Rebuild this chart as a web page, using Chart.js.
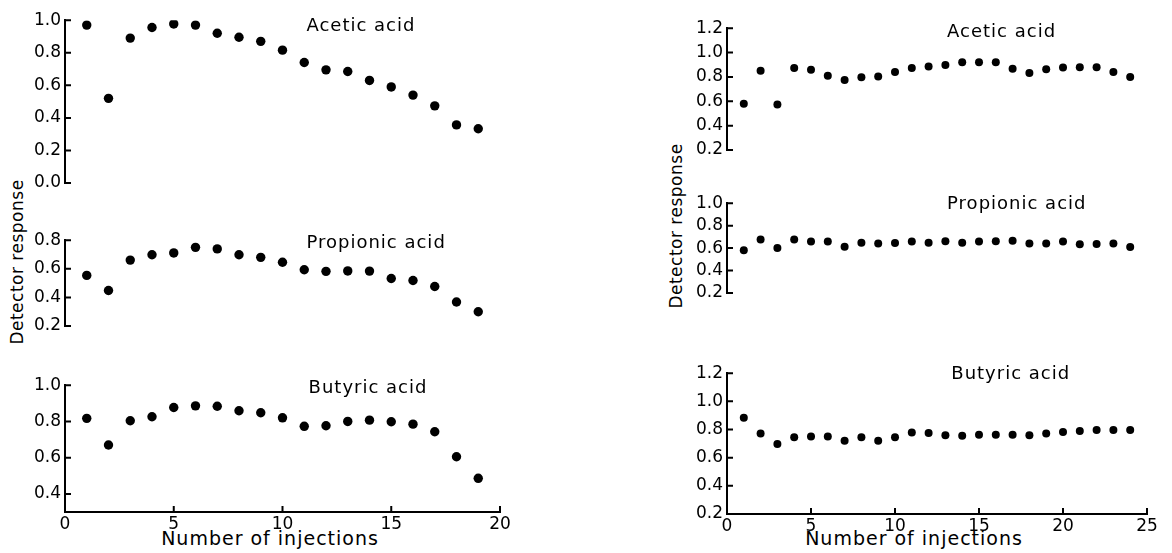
<!doctype html>
<html>
<head>
    <title>Detector response vs injections</title>
    <script src="https://cdn.jsdelivr.net/npm/chart.js"></script>
    <style>
        body {
            margin: 0;
            background: #fff;
            font-family: "DejaVu Sans", sans-serif;
            width: 1172px;
            height: 553px;
            position: relative;
            overflow: hidden;
        }
        .panel {
            position: absolute;
        }
        .axis-title {
            position: absolute;
            font-size: 19px;
            letter-spacing: 1px;
            color: #000;
            text-align: center;
            white-space: nowrap;
            height: 24px;
            line-height: 24px;
        }
        .axis-title.y {
            font-size: 17px;
            letter-spacing: 0.5px;
            transform: rotate(-90deg);
        }
    </style>
</head>
<body>
    <div class="axis-title y" style="left:-83px; top:250px; width:200px;">Detector response</div>
    <div class="axis-title y" style="left:576px; top:214px; width:200px;">Detector response</div>
    <div class="axis-title" style="left:150px; top:526px; width:240px;">Number of injections</div>
    <div class="axis-title" style="left:794px; top:526px; width:240px;">Number of injections</div>

    <script>
        // left column: injections 1-19
        const injLeft = [1, 2, 3, 4, 5, 6, 7, 8, 9, 10, 11, 12, 13, 14, 15, 16, 17, 18, 19];
        const aceticLeft = [0.97, 0.52, 0.89, 0.955, 0.977, 0.97, 0.92, 0.895, 0.87, 0.816, 0.74, 0.695, 0.685, 0.63, 0.59, 0.54, 0.474, 0.357, 0.333];
        const propionicLeft = [0.554, 0.448, 0.661, 0.698, 0.711, 0.75, 0.739, 0.698, 0.68, 0.646, 0.593, 0.582, 0.585, 0.584, 0.532, 0.518, 0.476, 0.368, 0.30];
        const butyricLeft = [0.817, 0.67, 0.804, 0.826, 0.877, 0.886, 0.884, 0.859, 0.848, 0.82, 0.773, 0.776, 0.80, 0.807, 0.798, 0.785, 0.743, 0.605, 0.486];

        // right column: injections 1-24
        const injRight = [1, 2, 3, 4, 5, 6, 7, 8, 9, 10, 11, 12, 13, 14, 15, 16, 17, 18, 19, 20, 21, 22, 23, 24];
        const aceticRight = [0.58, 0.85, 0.573, 0.874, 0.858, 0.81, 0.774, 0.797, 0.804, 0.84, 0.874, 0.885, 0.897, 0.92, 0.92, 0.92, 0.867, 0.832, 0.862, 0.878, 0.88, 0.88, 0.84, 0.80];
        const propionicRight = [0.581, 0.677, 0.60, 0.677, 0.658, 0.658, 0.612, 0.648, 0.641, 0.645, 0.658, 0.648, 0.66, 0.648, 0.658, 0.66, 0.665, 0.641, 0.641, 0.658, 0.634, 0.637, 0.641, 0.61];
        const butyricRight = [0.883, 0.772, 0.698, 0.745, 0.75, 0.75, 0.72, 0.745, 0.72, 0.745, 0.779, 0.775, 0.76, 0.755, 0.763, 0.763, 0.763, 0.76, 0.772, 0.783, 0.79, 0.797, 0.797, 0.797];

        // tick values
        const xTicksLeft = [0, 5, 10, 15, 20];
        const xTicksRight = [0, 5, 10, 15, 20, 25];
        const yTicksAceticLeft = [0, 0.2, 0.4, 0.6, 0.8, 1.0];
        const yTicksPropionicLeft = [0.2, 0.4, 0.6, 0.8];
        const yTicksButyricLeft = [0.4, 0.6, 0.8, 1.0];
        const yTicksAceticRight = [0.2, 0.4, 0.6, 0.8, 1.0, 1.2];
        const yTicksPropionicRight = [0.2, 0.4, 0.6, 0.8, 1.0];
        const yTicksButyricRight = [0.2, 0.4, 0.6, 0.8, 1.0, 1.2];

        const PAD = 14, YW = 50, XH = 22;

        // inward tick marks + acid name
        const decorations = {
            id: 'decorations',
            afterDraw(chart, args, opts) {
                const ctx = chart.ctx, a = chart.chartArea;
                const xs = chart.scales.x, ys = chart.scales.y;
                ctx.save();
                ctx.strokeStyle = '#000';
                ctx.lineWidth = 2;
                ctx.beginPath();
                ys.ticks.forEach(t => {
                    const py = ys.getPixelForValue(t.value);
                    ctx.moveTo(a.left, py);
                    ctx.lineTo(a.left + 6, py);
                });
                if (xs.options.display) {
                    xs.ticks.forEach(t => {
                        const px = xs.getPixelForValue(t.value);
                        ctx.moveTo(px, a.bottom);
                        ctx.lineTo(px, a.bottom - 6);
                    });
                }
                ctx.stroke();
                ctx.fillStyle = '#000';
                ctx.font = '18px "DejaVu Sans"';
                ctx.letterSpacing = '1px';
                ctx.textAlign = 'left';
                ctx.textBaseline = 'middle';
                ctx.fillText(opts.text, xs.getPixelForValue(opts.x), ys.getPixelForValue(opts.y));
                ctx.restore();
            }
        };

        const panels = [
            { data: aceticLeft, inj: injLeft, xmax: 20, xticks: xTicksLeft, ymin: 0, ymax: 1.0, yticks: yTicksAceticLeft,
              left: 65, right: 500, top: 20, bottom: 205, xAxis: false, r: 4.7,
              label: { text: 'Acetic acid', x: 11.1, y: 0.96 } },
            { data: propionicLeft, inj: injLeft, xmax: 20, xticks: xTicksLeft, ymin: 0.2, ymax: 0.8, yticks: yTicksPropionicLeft,
              left: 65, right: 500, top: 240, bottom: 348, xAxis: false, r: 4.7,
              label: { text: 'Propionic acid', x: 11.1, y: 0.78 } },
            { data: butyricLeft, inj: injLeft, xmax: 20, xticks: xTicksLeft, ymin: 0.3, ymax: 1.0, yticks: yTicksButyricLeft,
              left: 65, right: 500, top: 385, bottom: 512, xAxis: true, r: 4.7,
              label: { text: 'Butyric acid', x: 11.2, y: 0.98 } },
            { data: aceticRight, inj: injRight, xmax: 25, xticks: xTicksRight, ymin: 0.2, ymax: 1.2, yticks: yTicksAceticRight,
              left: 727, right: 1147, top: 28, bottom: 172, xAxis: false, r: 4,
              label: { text: 'Acetic acid', x: 13.1, y: 1.165 } },
            { data: propionicRight, inj: injRight, xmax: 25, xticks: xTicksRight, ymin: 0.2, ymax: 1.0, yticks: yTicksPropionicRight,
              left: 727, right: 1147, top: 203, bottom: 315, xAxis: false, r: 4,
              label: { text: 'Propionic acid', x: 13.1, y: 0.99 } },
            { data: butyricRight, inj: injRight, xmax: 25, xticks: xTicksRight, ymin: 0.2, ymax: 1.2, yticks: yTicksButyricRight,
              left: 727, right: 1147, top: 373, bottom: 514, xAxis: true, r: 4,
              label: { text: 'Butyric acid', x: 13.35, y: 1.19 } }
        ];

        const tickFont = { family: '"DejaVu Sans"', size: 17 };

        panels.forEach(p => {
            const xh = p.xAxis ? XH : 0;
            const div = document.createElement('div');
            div.className = 'panel';
            div.style.left = (p.left - YW) + 'px';
            div.style.top = (p.top - PAD) + 'px';
            div.style.width = (p.right - p.left + YW + PAD) + 'px';
            div.style.height = (p.bottom - p.top + 2 * PAD + xh) + 'px';
            const canvas = document.createElement('canvas');
            div.appendChild(canvas);
            document.body.appendChild(div);

            new Chart(canvas, {
                type: 'scatter',
                data: {
                    datasets: [{
                        data: p.inj.map((x, i) => ({ x: x, y: p.data[i] })),
                        pointRadius: p.r,
                        pointBackgroundColor: '#000',
                        pointBorderWidth: 0,
                        borderColor: '#000'
                    }]
                },
                options: {
                    responsive: true,
                    maintainAspectRatio: false,
                    animation: false,
                    layout: { padding: { top: PAD, right: PAD, bottom: PAD, left: 0 } },
                    plugins: {
                        legend: { display: false },
                        tooltip: { enabled: false },
                        decorations: p.label
                    },
                    scales: {
                        x: {
                            type: 'linear',
                            min: 0,
                            max: p.xmax,
                            display: p.xAxis,
                            grid: { display: false, drawTicks: false },
                            border: { display: true, color: '#000', width: 2 },
                            ticks: { color: '#000', font: tickFont, padding: 2, maxRotation: 0, autoSkip: false },
                            afterBuildTicks: s => { s.ticks = p.xticks.map(v => ({ value: v })); },
                            afterFit: s => { s.height = XH; }
                        },
                        y: {
                            min: p.ymin,
                            max: p.ymax,
                            grid: { display: false, drawTicks: false },
                            border: { display: true, color: '#000', width: 2 },
                            ticks: { color: '#000', font: tickFont, padding: 4, autoSkip: false, callback: v => v.toFixed(1) },
                            afterBuildTicks: s => { s.ticks = p.yticks.map(v => ({ value: v })); },
                            afterFit: s => { s.width = YW; }
                        }
                    }
                },
                plugins: [decorations]
            });
        });
    </script>
</body>
</html>
